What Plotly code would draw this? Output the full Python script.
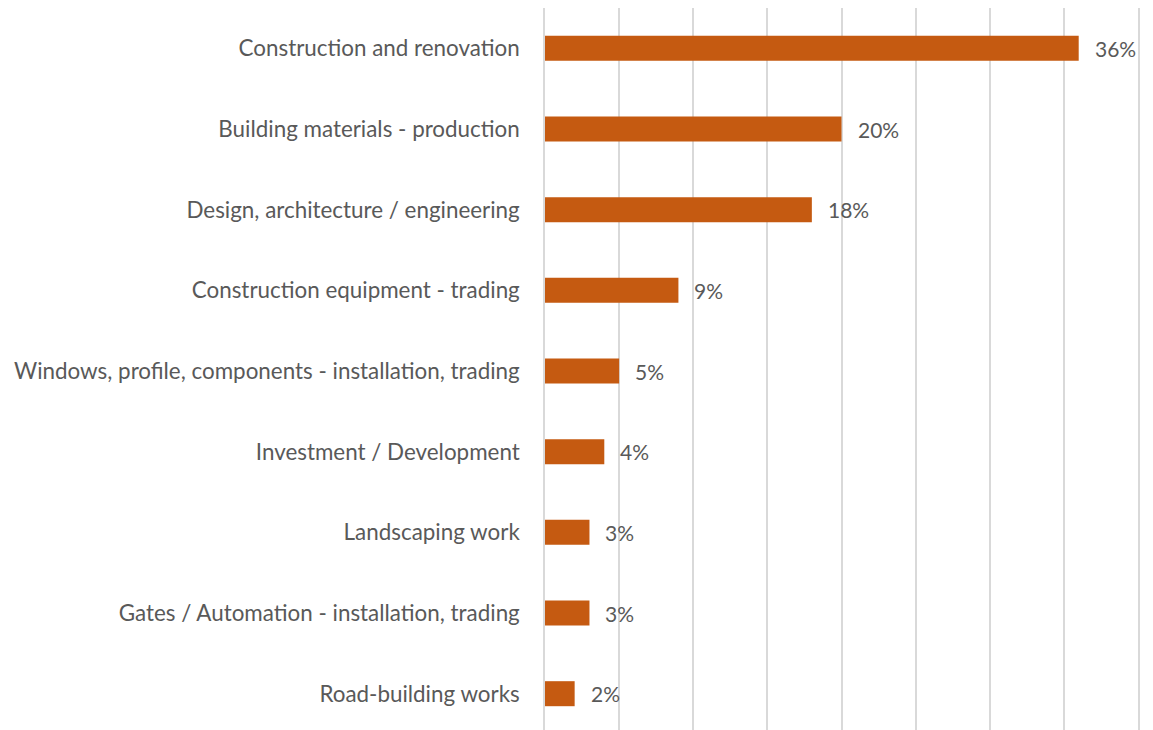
import plotly.graph_objects as go

categories = [
    "Construction and renovation",
    "Building materials - production",
    "Design, architecture / engineering",
    "Construction equipment - trading",
    "Windows, profile, components - installation, trading",
    "Investment / Development",
    "Landscaping work",
    "Gates / Automation - installation, trading",
    "Road-building works",
]
values = [36, 20, 18, 9, 5, 4, 3, 3, 2]
labels = ["36%", "20%", "18%", "9%", "5%", "4%", "3%", "3%", "2%"]

FONT = "Lato, 'Open Sans', sans-serif"
TXT = "#595959"
GRID = "#D9D9D9"

fig = go.Figure()
fig.add_trace(go.Bar(
    x=values, y=categories, orientation="h",
    marker=dict(color="#C55A11", line=dict(width=0)),
    width=0.31, hoverinfo="skip",
))
for c, v, t in zip(categories, values, labels):
    fig.add_annotation(x=v, y=c, text=t, showarrow=False, xanchor="left",
                       xshift=14, font=dict(family=FONT, size=21, color=TXT))

fig.update_layout(
    width=1153, height=730,
    margin=dict(l=537, r=23, t=0, b=8),
    paper_bgcolor="white", plot_bgcolor="white",
    showlegend=False,
    font=dict(family=FONT, size=22.4, color=TXT),
    xaxis=dict(range=[0, 40], dtick=5, showgrid=True, gridcolor=GRID,
               gridwidth=1.5, showticklabels=False, zeroline=False,
               showline=False, ticks=""),
    yaxis=dict(type="category", categoryorder="array", categoryarray=categories,
               range=[8.45, -0.5], showgrid=False, ticks="outside",
               ticklen=19, tickcolor="rgba(0,0,0,0)", automargin=False,
               showline=True, linecolor=GRID, linewidth=1.5, mirror=True,
               tickfont=dict(family=FONT, size=22.4, color=TXT)),
)
fig.write_html("out.html")
